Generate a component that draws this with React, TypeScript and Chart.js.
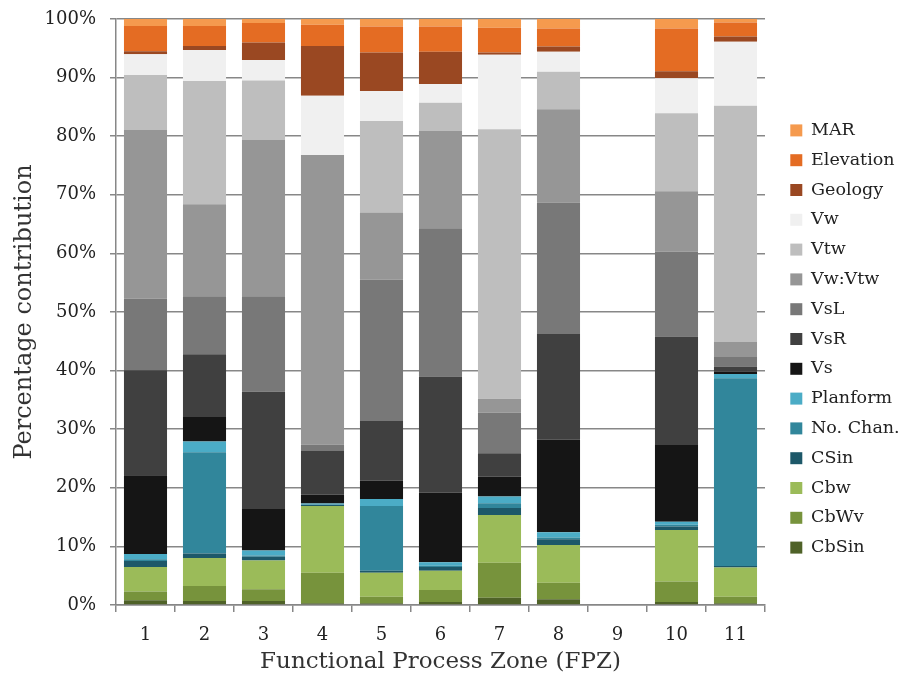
import React, { useEffect, useRef } from "react";
import { Chart, registerables } from "chart.js";

Chart.register(...registerables);

const categories = ["1", "2", "3", "4", "5", "6", "7", "8", "9", "10", "11"];
const yTickLabels = ["0%", "10%", "20%", "30%", "40%", "50%", "60%", "70%", "80%", "90%", "100%"];

// stacked from bottom to top
const CbSin = [0.8, 0.7, 0.7, 0.3, 0.3, 0.5, 1.25, 1.0, 0, 0.5, 0.3];
const CbWv = [1.5, 2.55, 2.0, 5.2, 1.1, 2.05, 5.95, 2.8, 0, 3.5, 1.1];
const Cbw = [4.2, 4.75, 4.9, 11.4, 4.1, 3.3, 8.15, 6.45, 0, 8.8, 5.0];
const CSin = [1.0, 0.8, 0.65, 0.2, 0.35, 0.65, 1.2, 0.95, 0, 0.6, 0.25];
const NoChan = [0.3, 17.25, 0.2, 0, 11.05, 0.2, 0.8, 0.3, 0, 0.3, 32.05];
const Planform = [0.9, 1.85, 0.85, 0.2, 1.2, 0.6, 1.15, 0.9, 0, 0.5, 0.7];
const Vs = [13.45, 4.2, 7.1, 1.5, 3.1, 11.9, 3.4, 15.8, 0, 13.1, 0.4];
const VsR = [17.9, 10.7, 20.0, 7.5, 10.2, 19.8, 4.0, 18.05, 0, 18.5, 0.9];
const VsL = [12.2, 9.9, 16.3, 1.1, 24.1, 25.3, 6.9, 22.45, 0, 14.5, 1.6];
const VwVtw = [28.8, 15.7, 26.65, 49.4, 11.5, 16.6, 2.4, 15.9, 0, 10.3, 2.6];
const Vtw = [9.4, 21.0, 10.15, 0, 15.6, 4.8, 46.0, 6.4, 0, 13.3, 40.3];
const Vw = [3.55, 5.3, 3.5, 10.1, 5.1, 3.2, 12.7, 3.4, 0, 6.0, 10.9];
const Geology = [0.5, 0.7, 3.0, 8.5, 6.6, 5.5, 0.4, 0.9, 0, 1.2, 0.9];
const Elevation = [4.3, 3.4, 3.3, 3.6, 4.4, 4.3, 4.2, 3.1, 0, 7.3, 2.4];
const MAR = [1.2, 1.2, 0.7, 1.0, 1.3, 1.3, 1.5, 1.6, 0, 1.6, 0.6];

const seriesNames = ["CbSin", "CbWv", "Cbw", "CSin", "No. Chan.", "Planform", "Vs", "VsR", "VsL", "Vw:Vtw", "Vtw", "Vw", "Geology", "Elevation", "MAR"];
const seriesValues = [CbSin, CbWv, Cbw, CSin, NoChan, Planform, Vs, VsR, VsL, VwVtw, Vtw, Vw, Geology, Elevation, MAR];
const seriesColors = ["#4F6228", "#77933C", "#9BBB59", "#1D5869", "#31869B", "#4BACC6", "#151515", "#404040", "#787878", "#969696", "#BEBEBE", "#F0F0F0", "#9A4822", "#E46C23", "#F59A4E"];

const FONT = "'DejaVu Serif', serif";
const GRID = "#878787";
const LEGEND_W = 152;
const LEGEND_SHIFT = 13;
const LEGEND_SHIFT_Y = -11;

const legendFix = {
  id: "legendFix",
  beforeLayout(chart: any) {
    const lg = chart.legend;
    if (lg && !lg._patched) {
      const orig = lg.fit.bind(lg);
      lg.fit = function () {
        orig();
        this.width = LEGEND_W;
      };
      lg._patched = true;
    }
  },
  afterLayout(chart: any) {
    const lg = chart.legend;
    if (lg) {
      lg.left += LEGEND_SHIFT;
      lg.right += LEGEND_SHIFT;
      lg.top += LEGEND_SHIFT_Y;
      lg.bottom += LEGEND_SHIFT_Y;
    }
  },
};

export default function App() {
  const ref = useRef<HTMLCanvasElement>(null);
  useEffect(() => {
    document.body.style.margin = "0";
    const chart = new Chart(ref.current!, {
      type: "bar",
      data: {
        labels: categories,
        datasets: seriesNames.map((n, i) => ({
          label: n,
          data: seriesValues[i],
          backgroundColor: seriesColors[i],
          borderWidth: 0,
          barPercentage: 0.73,
          categoryPercentage: 1,
        })),
      },
      plugins: [legendFix],
      options: {
        animation: false,
        responsive: false,
        maintainAspectRatio: false,
        layout: { padding: { top: 19, left: 0, right: 0, bottom: 0 } },
        plugins: {
          tooltip: { enabled: false },
          legend: {
            position: "right",
            reverse: true,
            labels: {
              boxWidth: 12,
              boxHeight: 12,
              padding: 12.3,
              color: "#222",
              font: { family: FONT, size: 17.5 },
            },
          },
        },
        scales: {
          x: {
            stacked: true,
            afterFit: (s: any) => { s.height = 76; },
            grid: { display: true, drawOnChartArea: false, drawTicks: true, tickLength: 7, color: GRID, lineWidth: 1.5, offset: true },
            border: { display: true, color: GRID, width: 1.5 },
            ticks: { color: "#222", font: { family: FONT, size: 18 }, padding: 13 },
            title: { display: true, text: "Functional Process Zone (FPZ)", color: "#333", font: { family: FONT, size: 23 }, padding: { top: 0, bottom: 5 } },
          },
          y: {
            stacked: true,
            min: 0,
            max: 100,
            afterFit: (s: any) => { s.width = 116; s.paddingTop = 0; s.paddingBottom = 0; },
            grid: { color: GRID, lineWidth: 1.5, tickLength: 6 },
            border: { display: true, color: GRID, width: 1.5 },
            ticks: {
              stepSize: 10,
              color: "#222",
              font: { family: FONT, size: 18 },
              padding: 14,
              callback: (v: any) => yTickLabels[Math.round(Number(v) / 10)],
            },
            title: { display: true, text: "Percentage contribution", color: "#333", font: { family: FONT, size: 24 }, padding: { top: 10, bottom: 0 } },
          },
        },
      },
    } as any);
    return () => chart.destroy();
  }, []);
  return (
    <div style={{ width: 917, height: 681 }}>
      <canvas ref={ref} width={917} height={681} style={{ width: 917, height: 681 }} />
    </div>
  );
}
